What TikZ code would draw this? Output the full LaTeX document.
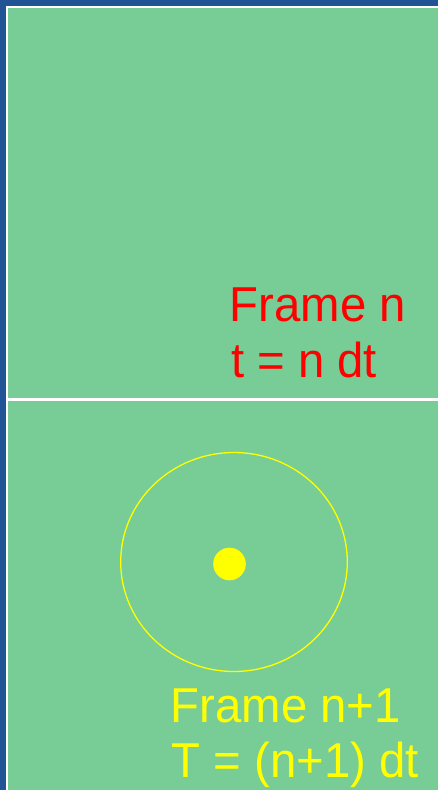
\documentclass[tikz,border=0pt]{standalone}
\usepackage{fontspec}
\setmainfont{Liberation Sans}
\definecolor{bgblue}{RGB}{32,84,148}
\definecolor{panelgreen}{RGB}{120,204,150}
\definecolor{txtred}{RGB}{255,0,0}
\definecolor{txtyellow}{RGB}{255,255,0}
\tikzset{
  lbl/.style={inner sep=0pt, anchor=base west, xscale=0.965, font=\fontsize{49}{56}\selectfont},
}
\begin{document}
\begin{tikzpicture}[x=1pt,y=-1pt]
\useasboundingbox (0,0) rectangle (438,790);
\fill[bgblue] (0,0) rectangle (438,790);
\filldraw[fill=panelgreen, draw=white, line width=2pt] (6.5,6.5) rectangle (445,800);
\draw[white, line width=2.3pt] (6.5,399.5) -- (440,399.5);
% top frame labels
\node[lbl, text=txtred] (fn) at (229.5,321.7) {Frame n};
\node[lbl, text=txtred] (tn) at (231,377.3) {t = n dt};
% bottom frame
\draw[txtyellow, line width=1.3pt] (234,562) ellipse [x radius=113.3, y radius=109.5];
\fill[txtyellow] (229.5,564) circle (16.3);
\node[lbl, text=txtyellow] (fn1) at (170.5,722.3) {Frame n+1};
\node[lbl, text=txtyellow] (tn1) at (171.5,777.3) {T = (n+1) dt};
\end{tikzpicture}
\end{document}
